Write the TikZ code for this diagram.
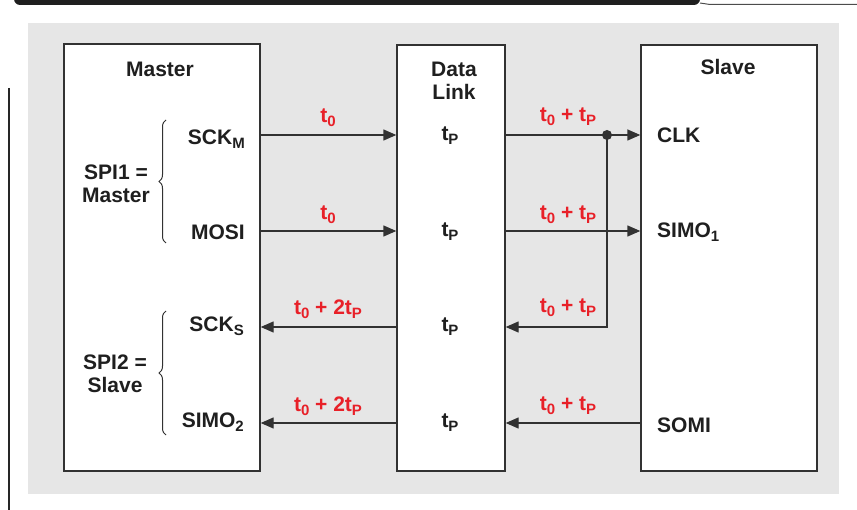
\documentclass[tikz,border=0pt]{standalone}
\usepackage{fontspec}
\setmainfont{Liberation Sans}
\usetikzlibrary{arrows.meta,decorations.pathreplacing}

\definecolor{delayred}{RGB}{232,32,40}
\definecolor{panelgray}{RGB}{230,230,230}
\definecolor{edgegray}{RGB}{50,50,50}

% lowered small index, as in t_0
\newcommand{\lsub}[1]{\raisebox{-4pt}{\fontsize{15}{15}\selectfont #1}}

\tikzset{
  block/.style={draw=edgegray, line width=1.4pt, fill=white, inner sep=0pt},
  pin/.style={inner sep=0pt, text=black!88},
  delay/.style={inner sep=0pt, text=delayred, anchor=base},
  wire/.style={draw=edgegray, line width=1.4pt},
}

\begin{document}
\begin{tikzpicture}[x=1pt, y=-1pt, >={Triangle[length=13pt,width=11pt]},
    font=\fontsize{21}{23}\selectfont\bfseries]
  \useasboundingbox (0,0) rectangle (857,510);

  % page edge
  \fill[black!88, rounded corners=6pt] (14,-10) -- (14,5) -- (700,5) -- (700,-10) -- cycle;
  \draw[black!70, line width=1pt] (700,3) to[out=0,in=180] (710,4.5) -- (857,4.5);
  \draw[black!85, line width=1.2pt] (9,88) -- (9,512);

  % panel
  \fill[panelgray] (28,23) rectangle (839,494);

  % blocks
  \node[block, minimum width=196, minimum height=427] (master) at (162,257.5) {};
  \node[block, minimum width=108, minimum height=426] (link) at (451,258) {};
  \node[block, minimum width=176, minimum height=426] (slave) at (729,258) {};

  \node[pin, anchor=base] (mastertitle) at (160,77) {Master};
  \node[pin, anchor=base, align=center] (linktitle) at (454,100) {Data\\Link};
  \node[pin, anchor=base] (slavetitle) at (728,75) {Slave};

  % rows
  \coordinate (r1) at (0,135);
  \coordinate (r2) at (0,231);
  \coordinate (r3) at (0,327);
  \coordinate (r4) at (0,423);

  % master side
  \node[pin, anchor=base east] (sckm) at (245,145) {SCK\lsub{M}};
  \node[pin, anchor=base east] (mosi) at (245,240) {MOSI};
  \node[pin, anchor=base east] (scks) at (244,332) {SCK\lsub{S}};
  \node[pin, anchor=base east] (simotwo) at (244,428) {SIMO\lsub{2}};
  \node[pin, anchor=base, align=center] (spione) at (116,203) {SPI1 =\\Master};
  \node[pin, anchor=base, align=center] (spitwo) at (115,393) {SPI2 =\\Slave};

  \draw[decorate, decoration={brace, amplitude=7pt}, line width=1pt, edgegray] (166,243) -- (166,120);
  \draw[decorate, decoration={brace, amplitude=7pt}, line width=1pt, edgegray] (166,435) -- (166,311);

  % data link delays
  \node[pin, anchor=base] (tpa) at (450,141) {t\lsub{P}};
  \node[pin, anchor=base] (tpb) at (450,237) {t\lsub{P}};
  \node[pin, anchor=base] (tpc) at (450,332) {t\lsub{P}};
  \node[pin, anchor=base] (tpd) at (450,428) {t\lsub{P}};

  % slave side
  \node[pin, anchor=base west] (clk) at (657,143) {CLK};
  \node[pin, anchor=base west] (simoone) at (657,238) {SIMO\lsub{1}};
  \node[pin, anchor=base west] (somi) at (657,433) {SOMI};

  % connections
  \draw[wire, ->] (master.east |- r1) -- (link.west |- r1);
  \draw[wire, ->] (master.east |- r2) -- (link.west |- r2);
  \draw[wire, ->] (link.west |- r3) -- (master.east |- r3);
  \draw[wire, ->] (link.west |- r4) -- (master.east |- r4);

  \coordinate (split) at (607,135);
  \draw[wire] (link.east |- r1) -- (split);
  \draw[wire, ->] (split) -- (slave.west |- r1);
  \draw[wire, ->] (split) |- (link.east |- r3);
  \fill[edgegray] (split) circle (5);
  \draw[wire, ->] (link.east |- r2) -- (slave.west |- r2);
  \draw[wire, ->] (slave.west |- r4) -- (link.east |- r4);

  % timing labels
  \node[delay] (da) at (328,123) {t\lsub{0}};
  \node[delay] (db) at (328,220) {t\lsub{0}};
  \node[delay] (dc) at (328,315) {t\lsub{0} + 2t\lsub{P}};
  \node[delay] (dd) at (328,412) {t\lsub{0} + 2t\lsub{P}};
  \node[delay] (de) at (568,122) {t\lsub{0} + t\lsub{P}};
  \node[delay] (df) at (568,220) {t\lsub{0} + t\lsub{P}};
  \node[delay] (dg) at (568,313) {t\lsub{0} + t\lsub{P}};
  \node[delay] (dh) at (568,411) {t\lsub{0} + t\lsub{P}};

\end{tikzpicture}
\end{document}
